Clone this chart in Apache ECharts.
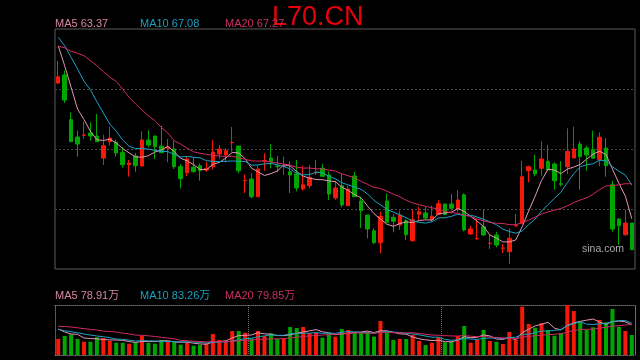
<!DOCTYPE html>
<html><head><meta charset="utf-8">
<script src="https://cdn.jsdelivr.net/npm/echarts@6/dist/echarts.min.js"></script>
<style>html,body{margin:0;padding:0;background:#000}#c{width:640px;height:360px}</style>
</head><body><div id="c"></div>
<script>
const categories = Array.from({length: 90}, (_, i) => 'D' + (i + 1));
const openP = [78.41,79.30,74.35,72.43,72.62,72.87,72.54,70.10,71.91,71.84,
70.73,69.36,70.32,69.22,72.10,72.54,71.43,71.18,71.10,69.14,
68.47,69.10,69.25,68.77,69.14,70.55,70.44,71.80,71.43,67.59,
67.77,65.81,69.77,70.10,69.22,69.16,68.58,68.33,66.67,67.03,
68.44,68.96,68.22,65.67,67.03,64.82,68.11,65.34,63.78,62.04,
60.71,65.34,63.53,62.68,63.15,60.94,63.86,64.01,63.26,63.86,
65.00,65.00,64.45,66.03,61.68,61.16,62.49,60.63,61.57,60.09,
59.72,62.57,62.86,68.69,68.77,68.96,69.74,69.44,67.25,69.14,
70.10,71.65,71.21,71.02,69.91,71.21,67.14,63.34,61.60,62.90];
const closeP = [79.11,76.53,71.91,71.65,72.65,72.54,71.91,71.47,72.32,70.66,
69.36,69.55,69.25,72.10,71.54,71.36,70.69,71.32,69.14,67.81,
69.99,68.58,68.69,68.96,70.77,71.10,70.91,71.84,68.69,67.63,
65.81,68.88,69.82,69.69,69.14,69.22,68.22,66.78,67.14,67.96,
68.52,68.07,66.11,66.78,64.89,66.67,65.81,64.26,62.23,60.71,
63.64,62.98,63.09,63.78,61.60,63.26,64.15,63.45,63.64,65.04,
63.82,64.53,65.45,62.12,62.23,61.20,61.57,60.65,60.46,60.13,
61.20,62.64,68.03,69.14,68.33,69.99,68.77,67.59,67.19,70.84,
71.10,70.25,70.44,70.07,72.40,69.25,62.23,62.60,62.90,59.94];
const lowP = [78.30,76.20,71.85,70.25,72.21,72.02,71.84,69.33,71.47,70.25,
69.03,68.03,68.58,69.14,71.29,69.99,70.69,69.63,68.88,66.74,
68.07,68.52,67.59,68.58,68.88,69.99,69.63,70.80,68.41,66.22,
65.64,65.81,68.69,68.96,68.52,68.22,66.22,66.41,66.48,66.74,
68.22,68.03,65.45,65.48,64.64,64.75,65.81,62.35,61.20,60.57,
59.54,62.98,61.87,62.12,61.01,60.83,63.26,63.34,63.04,63.86,
63.82,64.26,64.15,61.98,61.57,61.01,61.49,60.02,60.21,59.57,
58.35,62.53,62.86,67.41,68.07,68.14,68.69,66.59,66.97,68.33,
70.10,66.59,68.69,69.99,69.18,68.03,61.93,60.46,61.49,59.94];
const highP = [80.89,79.78,75.17,73.13,74.13,74.06,74.98,72.68,73.57,72.13,
71.29,69.88,70.66,73.06,73.17,72.57,73.68,72.21,72.02,69.44,
70.25,70.18,69.51,69.69,72.10,71.54,71.18,73.54,71.47,68.25,
68.41,69.25,70.62,71.65,70.29,70.25,69.74,69.88,69.25,69.33,
69.91,69.44,68.58,67.59,68.33,67.03,68.58,65.81,63.78,62.31,
64.15,66.15,63.90,64.26,63.34,64.37,64.71,64.71,64.82,65.41,
65.04,66.12,66.56,66.19,62.60,63.34,64.34,61.60,61.93,60.57,
62.31,63.90,69.80,69.25,70.47,71.95,71.54,69.63,69.74,73.39,
73.57,71.95,71.47,73.13,72.95,72.32,67.59,63.42,64.34,62.90];
// volume in 万
const volume = [41.9,49.8,54.2,41.9,34.8,34.8,46.4,44.5,37.5,32.2,
32.2,29.6,33.3,49.8,32.2,29.6,39.3,36.7,33.3,27.0,
33.3,24.4,26.2,30.7,55.0,39.3,34.8,62.9,62.9,58.4,
43.8,62.9,49.8,56.9,41.9,41.9,73.4,70.7,73.4,56.9,
58.4,45.3,56.9,47.9,68.1,65.5,59.5,59.5,61.0,47.9,
89.1,59.5,39.3,41.9,41.9,52.4,36.7,26.2,32.2,46.4,
33.3,34.8,49.8,76.0,32.2,39.3,65.5,36.7,34.8,28.8,
60.3,41.1,126.5,81.2,71.5,83.1,65.5,50.6,56.9,131.0,
115.3,87.2,65.5,72.6,91.7,85.7,120.5,74.1,62.9,52.4];
// moving-average values before enough visible bars exist
const ma5Head = [82.55,80.33,77.94,75.53];
const ma10Head = [83.48,82.55,81.26,79.97,78.60,77.67,76.34,75.09,73.87];
const ma20Head = [82.48,82.33,81.93,81.71,81.44,80.89,80.33,79.67,79.05,78.60,
77.75,76.83,76.09,75.42,74.79,74.24,73.50,72.87,72.02];
const vma5Head = [68.1,60.3,55.0,54.2];
const vma10Head = [67.3,63.7,61.0,58.4,55.0,52.4,49.8,47.9,45.3];
const vma20Head = [75.2,74.7,73.4,71.2,69.0,67.2,65.5,62.7,61.5,60.2,
57.5,55.0,52.2,51.5,50.3,48.5,46.5,44.5,42.5];
const titleText = 'L70.CN';
const priceLegend = ['MA5 63.37', 'MA10 67.08', 'MA20 67.27'];
const volLegend = ['MA5 78.91万', 'MA10 83.26万', 'MA20 79.85万'];
const watermark = 'sina.com';

const RED = '#f5190a', GREEN = '#00a600';
const C5 = '#e597b2', C10 = '#1aa3c8', C20 = '#d12a62';
const L5 = '#d983a3', L10 = '#1a9fc2', L20 = '#cc2f60';

function ma(src, n, head) {
  return src.map((v, i) => {
    if (i < n - 1) return head[i];
    let s = 0;
    for (let k = i - n + 1; k <= i; k++) s += src[k];
    return +(s / n).toFixed(3);
  });
}

const candle = categories.map((_, i) => [openP[i], closeP[i], lowP[i], highP[i]]);
const volData = volume.map((v, i) => ({
  value: v,
  itemStyle: { color: closeP[i] >= openP[i] ? RED : GREEN }
}));

const font = "'Liberation Sans', Arial, 'Noto Sans CJK SC', sans-serif";
function lbl(text, left, top, color, size) {
  return { text, left, top, padding: 0,
    textStyle: { color, fontSize: size, fontWeight: 'normal', fontFamily: font } };
}

const chart = echarts.init(document.getElementById('c'), null, { renderer: 'canvas' });
const dotted = { color: '#6e6e6e', type: [1, 1], width: 1 };
chart.setOption({
  backgroundColor: '#000',
  animation: false,
  title: [
    lbl(titleText, 272, 4, '#e8000b', 27),
    lbl(priceLegend[0], 55, 18, L5, 11),
    lbl(priceLegend[1], 140, 18, L10, 11),
    lbl(priceLegend[2], 225, 18, L20, 11),
    lbl(volLegend[0], 55, 290, L5, 11),
    lbl(volLegend[1], 140, 290, L10, 11),
    lbl(volLegend[2], 225, 290, L20, 11),
    lbl(watermark, 582, 244, '#a8a8a8', 10.5)
  ],
  grid: [
    { left: 55, top: 29, width: 580, height: 240, show: true, borderColor: '#5c5c5c', borderWidth: 1 },
    { left: 55, top: 305, width: 580, height: 50 }
  ],
  xAxis: [
    { type: 'category', gridIndex: 0, data: categories, boundaryGap: true,
      axisLine: { show: false }, axisTick: { show: false }, axisLabel: { show: false }, splitLine: { show: false } },
    { type: 'category', gridIndex: 1, data: categories, boundaryGap: true,
      axisLine: { show: true, onZero: false, lineStyle: dotted }, axisTick: { show: false }, axisLabel: { show: false },
      splitLine: { show: true, interval: (i) => i === 30 || i === 60, lineStyle: dotted } },
    { type: 'category', gridIndex: 1, data: categories, position: 'top', boundaryGap: true,
      axisLine: { show: true, onZero: false, lineStyle: dotted }, axisTick: { show: false }, axisLabel: { show: false }, splitLine: { show: false } }
  ],
  yAxis: [
    { type: 'value', gridIndex: 0, min: 57.8, max: 84.4, scale: true,
      axisLine: { show: false }, axisTick: { show: false }, axisLabel: { show: false }, splitLine: { show: false } },
    { type: 'value', gridIndex: 0, min: 0, max: 4, interval: 1, position: 'right',
      axisLine: { show: false }, axisTick: { show: false }, axisLabel: { show: false },
      splitLine: { show: true, showMinLine: false, showMaxLine: false, lineStyle: { color: '#474747', type: [2, 2], width: 1 } } },
    { type: 'value', gridIndex: 1, min: 0, max: 131,
      axisLine: { show: true, onZero: false, lineStyle: dotted }, axisTick: { show: false }, axisLabel: { show: false }, splitLine: { show: false } },
    { type: 'value', gridIndex: 1, min: 0, max: 131, position: 'right',
      axisLine: { show: true, onZero: false, lineStyle: dotted }, axisTick: { show: false }, axisLabel: { show: false }, splitLine: { show: false } }
  ],
  series: [
    { type: 'candlestick', xAxisIndex: 0, yAxisIndex: 0, data: candle, barWidth: 4,
      itemStyle: { color: RED, color0: GREEN, borderColor: RED, borderColor0: GREEN, borderWidth: 1 } },
    { type: 'line', xAxisIndex: 0, yAxisIndex: 0, data: ma(closeP, 5, ma5Head), symbol: 'none',
      lineStyle: { color: C5, width: 1 } },
    { type: 'line', xAxisIndex: 0, yAxisIndex: 0, data: ma(closeP, 10, ma10Head), symbol: 'none',
      lineStyle: { color: C10, width: 1 } },
    { type: 'line', xAxisIndex: 0, yAxisIndex: 0, data: ma(closeP, 20, ma20Head), symbol: 'none',
      lineStyle: { color: C20, width: 1 } },
    { type: 'bar', xAxisIndex: 1, yAxisIndex: 2, data: volData, barWidth: 4 },
    { type: 'line', xAxisIndex: 1, yAxisIndex: 2, data: ma(volume, 5, vma5Head), symbol: 'none',
      lineStyle: { color: C5, width: 1 } },
    { type: 'line', xAxisIndex: 1, yAxisIndex: 2, data: ma(volume, 10, vma10Head), symbol: 'none',
      lineStyle: { color: C10, width: 1 } },
    { type: 'line', xAxisIndex: 1, yAxisIndex: 2, data: ma(volume, 20, vma20Head), symbol: 'none',
      lineStyle: { color: C20, width: 1 } }
  ]
});
</script></body></html>
